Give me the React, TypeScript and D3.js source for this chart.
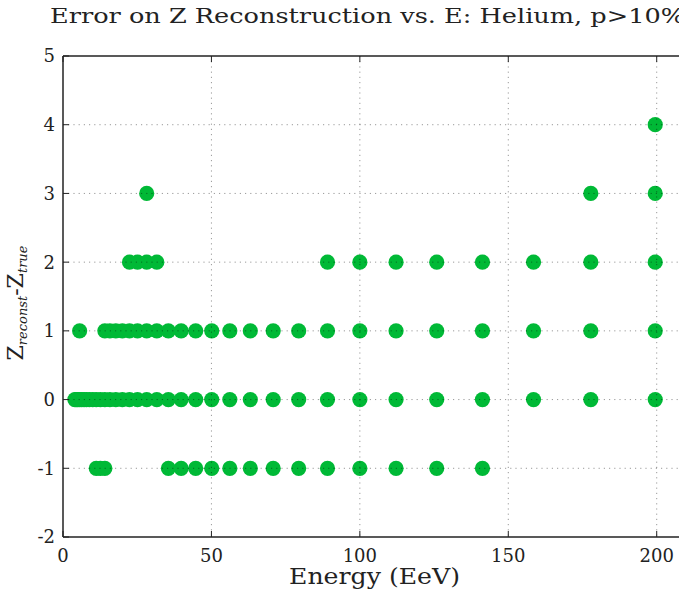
import React from "react";
import * as d3 from "d3";

// Axis ticks
const xTicks = [0, 50, 100, 150, 200];
const yTicks = [-2, -1, 0, 1, 2, 3, 4, 5];

// Beam energies (EeV) at which each reconstruction error was observed
const errMinus1 = [11.2, 12.6, 14.1, 35.5, 39.8, 44.7, 50.1, 56.2, 63.1, 70.8, 79.4, 89.1, 100, 112.2, 125.9, 141.3];
const err0 = [
  4.0, 4.5, 5.0, 5.6, 6.3, 7.1, 7.9, 8.9, 10, 11.2, 12.6, 14.1, 15.8, 17.8, 20, 22.4, 25.1, 28.2, 31.6,
  35.5, 39.8, 44.7, 50.1, 56.2, 63.1, 70.8, 79.4, 89.1, 100, 112.2, 125.9, 141.3, 158.5, 177.8, 199.5,
];
const err1 = [
  5.6, 14.1, 15.8, 17.8, 20, 22.4, 25.1, 28.2, 31.6, 35.5, 39.8, 44.7, 50.1, 56.2, 63.1, 70.8, 79.4,
  89.1, 100, 112.2, 125.9, 141.3, 158.5, 177.8, 199.5,
];
const err2 = [22.4, 25.1, 28.2, 31.6, 89.1, 100, 112.2, 125.9, 141.3, 158.5, 177.8, 199.5];
const err3 = [28.2, 177.8, 199.5];
const err4 = [199.5];

const rows = [
  { err: -1, energies: errMinus1 },
  { err: 0, energies: err0 },
  { err: 1, energies: err1 },
  { err: 2, energies: err2 },
  { err: 3, energies: err3 },
  { err: 4, energies: err4 },
];

const W = 679;
const H = 590;
const serif = "'DejaVu Serif', 'Liberation Serif', serif";

export default function App() {
  const x = d3.scaleLinear().domain([0, 210]).range([63, 686.4]);
  const y = d3.scaleLinear().domain([-2, 5]).range([537, 56]);
  const [x0, x1] = x.range();
  const [yb, yt] = y.range();

  const points = rows.flatMap((r) => r.energies.map((e) => ({ e, err: r.err })));

  return (
    <svg
      width={W}
      height={H}
      style={{ position: "absolute", left: 0, top: 0, overflow: "hidden", background: "#fff" }}
    >
      <rect x={0} y={0} width={W} height={H} fill="#fff" />

      {/* title */}
      <text
        x={50}
        y={23}
        fontFamily={serif}
        fontSize={20}
        fill="#222"
        textLength={635}
        lengthAdjust="spacingAndGlyphs"
      >
        Error on Z Reconstruction vs. E: Helium, p&gt;10%
      </text>

      {/* markers */}
      <g fill="#00b936">
        {points.map((p, i) => (
          <circle key={i} cx={x(p.e)} cy={y(p.err)} r={7.6} />
        ))}
      </g>

      {/* dotted grid, drawn over the markers */}
      <g stroke="#000" strokeOpacity={0.4} strokeWidth={1} strokeDasharray="1.2,4">
        {yTicks
          .filter((t) => t > -2 && t < 5)
          .map((t) => (
            <line key={"gy" + t} x1={x0} x2={x1} y1={y(t)} y2={y(t)} />
          ))}
        {xTicks
          .filter((t) => t > 0)
          .map((t) => (
            <line key={"gx" + t} x1={x(t)} x2={x(t)} y1={yt} y2={yb} />
          ))}
      </g>

      {/* frame */}
      <g stroke="#222" strokeWidth={1.5} fill="none">
        <line x1={x0} x2={x0} y1={yt} y2={yb} />
        <line x1={x0} x2={x1} y1={yb} y2={yb} />
        <line x1={x0} x2={x1} y1={yt} y2={yt} />
      </g>

      {/* inward ticks */}
      <g stroke="#222" strokeWidth={1}>
        {yTicks.map((t) => (
          <line key={"ty" + t} x1={x0} x2={x0 + 6} y1={y(t)} y2={y(t)} />
        ))}
        {xTicks.map((t) => (
          <g key={"tx" + t}>
            <line x1={x(t)} x2={x(t)} y1={yb} y2={yb - 6} />
            <line x1={x(t)} x2={x(t)} y1={yt} y2={yt + 6} />
          </g>
        ))}
      </g>

      {/* tick labels */}
      <g fontFamily={serif} fontSize={18} fill="#222">
        {yTicks.map((t) => (
          <text key={"ly" + t} x={55} y={y(t)} dy="0.36em" textAnchor="end">
            {t}
          </text>
        ))}
        {xTicks.map((t) => (
          <text key={"lx" + t} x={x(t)} y={562} textAnchor="middle">
            {t}
          </text>
        ))}
      </g>

      {/* axis titles */}
      <text
        x={374.5}
        y={584}
        textAnchor="middle"
        fontFamily={serif}
        fontSize={22}
        fill="#222"
        textLength={171}
        lengthAdjust="spacingAndGlyphs"
      >
        Energy (EeV)
      </text>
      <text
        transform="translate(23,303) rotate(-90)"
        textAnchor="middle"
        fontFamily={serif}
        fontSize={22}
        fill="#222"
      >
        Z
        <tspan fontSize={13} fontStyle="italic" dy={4}>
          reconst
        </tspan>
        <tspan dy={-4}>-Z</tspan>
        <tspan fontSize={13} fontStyle="italic" dy={4}>
          true
        </tspan>
      </text>
    </svg>
  );
}
